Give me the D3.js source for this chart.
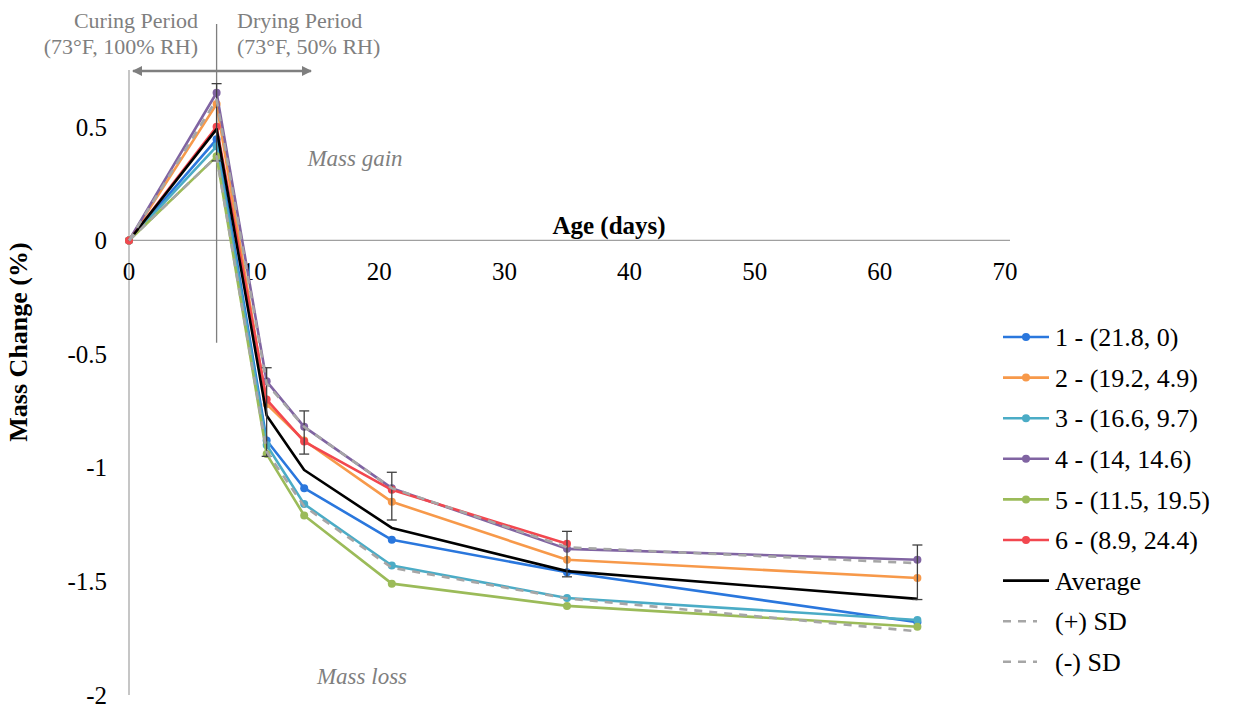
<!DOCTYPE html>
<html>
<head>
<meta charset="utf-8">
<script src="https://cdn.jsdelivr.net/npm/d3@7"></script>
<style>
  body { margin: 0; background: #fff; }
</style>
</head>
<body>
<div id="chart"></div>
<script>
// Ages (days) where samples were weighed
var days = [0, 7, 11, 14, 21, 35, 63];

// Mass change (%) per mix (mix 6 has no reading at 63 days)
var mix1 = [0, 0.445, -0.88, -1.09, -1.317, -1.46, -1.68];
var mix2 = [0, 0.60, -0.72, -0.88, -1.15, -1.405, -1.485];
var mix3 = [0, 0.414, -0.90, -1.16, -1.43, -1.573, -1.67];
var mix4 = [0, 0.65, -0.62, -0.82, -1.09, -1.357, -1.405];
var mix5 = [0, 0.37, -0.94, -1.21, -1.51, -1.608, -1.70];
var mix6 = [0, 0.50, -0.70, -0.885, -1.097, -1.335, null];
var average = [0, 0.49, -0.77, -1.01, -1.265, -1.455, -1.577];
var plusSD = [0, 0.62, -0.63, -0.82, -1.09, -1.35, -1.42];
var minusSD = [0, 0.37, -0.93, -1.17, -1.44, -1.575, -1.72];

// error bars
var errDays = [7, 11, 14, 21, 35, 63];
var errHigh = [0.69, -0.56, -0.75, -1.02, -1.28, -1.34];
var errLow = [0.35, -0.95, -0.94, -1.23, -1.48, -1.58];

var seriesNames = ["1 - (21.8, 0)", "2 - (19.2, 4.9)", "3 - (16.6, 9.7)", "4 - (14, 14.6)",
                   "5 - (11.5, 19.5)", "6 - (8.9, 24.4)", "Average", "(+) SD", "(-) SD"];
var xTicks = [0, 10, 20, 30, 40, 50, 60, 70];
var yTicks = [0.5, 0, -0.5, -1, -1.5, -2];

var width = 1233, height = 708;
var serif = "'Liberation Serif'";

var series = [
    { name: seriesNames[0], values: mix1, color: "#2a77dd", marker: true, dash: null },
    { name: seriesNames[1], values: mix2, color: "#f7994a", marker: true, dash: null },
    { name: seriesNames[2], values: mix3, color: "#4bacc6", marker: true, dash: null },
    { name: seriesNames[3], values: mix4, color: "#8064a2", marker: true, dash: null },
    { name: seriesNames[4], values: mix5, color: "#9bbb59", marker: true, dash: null },
    { name: seriesNames[5], values: mix6, color: "#f2474f", marker: true, dash: null },
    { name: seriesNames[6], values: average, color: "#000000", marker: false, dash: null },
    { name: seriesNames[7], values: plusSD, color: "#a6a6a6", marker: false, dash: "8,7" },
    { name: seriesNames[8], values: minusSD, color: "#a6a6a6", marker: false, dash: "8,7" }
];

var svg = d3.select("#chart")
    .append("svg")
    .attr("width", width)
    .attr("height", height);

var x = d3.scaleLinear().domain([0, 70]).range([129, 1005]);
var y = d3.scaleLinear().domain([-2, 0.75]).range([695, 70]);

// axis lines (y axis at x=0, x axis crossing at y=0)
svg.append("line")
    .attr("x1", x(0)).attr("x2", x(0))
    .attr("y1", y(0.75)).attr("y2", y(-2))
    .attr("stroke", "#a0a0a0").attr("stroke-width", 1.2);
svg.append("line")
    .attr("x1", x(0)).attr("x2", x(70) + 5)
    .attr("y1", y(0)).attr("y2", y(0))
    .attr("stroke", "#a0a0a0").attr("stroke-width", 1.2);

// tick labels
svg.selectAll(".ytick")
    .data(yTicks)
    .enter()
    .append("text")
    .attr("class", "ytick")
    .attr("x", 107)
    .attr("y", function (d) { return y(d); })
    .attr("dy", "0.35em")
    .attr("text-anchor", "end")
    .style("font-family", serif)
    .style("font-size", "25px")
    .text(function (d) { return d; });

svg.selectAll(".xtick")
    .data(xTicks)
    .enter()
    .append("text")
    .attr("class", "xtick")
    .attr("x", function (d) { return x(d); })
    .attr("y", y(0) + 31)
    .attr("dy", "0.35em")
    .attr("text-anchor", "middle")
    .style("font-family", serif)
    .style("font-size", "25px")
    .text(function (d) { return d; });

// axis titles
svg.append("text")
    .attr("x", 609).attr("y", 234)
    .attr("text-anchor", "middle")
    .style("font-family", serif)
    .style("font-size", "25px").style("font-weight", "bold")
    .text("Age (days)");
svg.append("text")
    .attr("transform", "translate(27,342) rotate(-90)")
    .attr("text-anchor", "middle")
    .style("font-family", serif)
    .style("font-size", "26px").style("font-weight", "bold")
    .text("Mass Change (%)");

// curing / drying annotation
var grey = "#7f7f7f";
svg.append("line")
    .attr("x1", x(7)).attr("x2", x(7))
    .attr("y1", 24).attr("y2", y(-0.45))
    .attr("stroke", grey).attr("stroke-width", 1.3);

svg.append("defs").append("marker")
    .attr("id", "arrow")
    .attr("viewBox", "0 0 10 10")
    .attr("refX", 9).attr("refY", 5)
    .attr("markerWidth", 4.4).attr("markerHeight", 4)
    .attr("orient", "auto-start-reverse")
    .append("path")
    .attr("d", "M0,0 L10,5 L0,10 z")
    .attr("fill", grey);

svg.append("line")
    .attr("x1", 133).attr("x2", 311)
    .attr("y1", 71).attr("y2", 71)
    .attr("stroke", grey).attr("stroke-width", 2.5)
    .attr("marker-start", "url(#arrow)")
    .attr("marker-end", "url(#arrow)");

var notes = [
    { t: "Curing Period", x: 198, y: 20, anchor: "end" },
    { t: "(73°F, 100% RH)", x: 198, y: 46, anchor: "end" },
    { t: "Drying Period", x: 237, y: 20, anchor: "start" },
    { t: "(73°F, 50% RH)", x: 237, y: 46, anchor: "start" }
];
svg.selectAll(".note")
    .data(notes)
    .enter()
    .append("text")
    .attr("class", "note")
    .attr("x", function (d) { return d.x; })
    .attr("y", function (d) { return d.y; })
    .attr("dy", "0.35em")
    .attr("text-anchor", function (d) { return d.anchor; })
    .attr("fill", grey)
    .style("font-family", serif)
    .style("font-size", "22px")
    .text(function (d) { return d.t; });

svg.append("text")
    .attr("x", 355).attr("y", 158).attr("dy", "0.35em")
    .attr("text-anchor", "middle").attr("fill", grey)
    .style("font-family", serif)
    .style("font-size", "23px").style("font-style", "italic")
    .text("Mass gain");
svg.append("text")
    .attr("x", 362).attr("y", 676).attr("dy", "0.35em")
    .attr("text-anchor", "middle").attr("fill", grey)
    .style("font-family", serif)
    .style("font-size", "23px").style("font-style", "italic")
    .text("Mass loss");

// lines (skip missing readings)
var line = d3.line()
    .defined(function (d) { return d != null; })
    .x(function (d, i) { return x(days[i]); })
    .y(function (d) { return y(d); });

var g = svg.append("g");

series.forEach(function (s, k) {
    g.append("path")
        .datum(s.values)
        .attr("d", line)
        .attr("fill", "none")
        .attr("stroke", s.color)
        .attr("stroke-width", 2.6)
        .attr("stroke-linejoin", "round")
        .attr("stroke-dasharray", s.dash);

    if (s.marker) {
        var pts = s.values.map(function (v, i) { return { day: days[i], v: v }; })
            .filter(function (p) { return p.v != null; });
        g.selectAll(".m" + k)
            .data(pts)
            .enter()
            .append("circle")
            .attr("class", "m" + k)
            .attr("cx", function (d) { return x(d.day); })
            .attr("cy", function (d) { return y(d.v); })
            .attr("r", 4)
            .attr("fill", s.color);
    }

    // error bars sit after the average line
    if (k == 6) {
        errDays.forEach(function (dd, i) {
            var eb = g.append("g").attr("stroke", "#404040").attr("stroke-width", 1.3);
            eb.append("line")
                .attr("x1", x(dd)).attr("x2", x(dd))
                .attr("y1", y(errHigh[i])).attr("y2", y(errLow[i]));
            eb.append("line")
                .attr("x1", x(dd) - 5).attr("x2", x(dd) + 5)
                .attr("y1", y(errHigh[i])).attr("y2", y(errHigh[i]));
            eb.append("line")
                .attr("x1", x(dd) - 5).attr("x2", x(dd) + 5)
                .attr("y1", y(errLow[i])).attr("y2", y(errLow[i]));
        });
    }
});

// legend
var legend = svg.append("g").attr("transform", "translate(1003,337)");
var rows = legend.selectAll(".row")
    .data(series)
    .enter()
    .append("g")
    .attr("class", "row")
    .attr("transform", function (d, i) { return "translate(0," + (i * 40.6) + ")"; });

rows.append("line")
    .attr("x1", 0).attr("x2", function (d) { return d.dash ? 34 : 46; })
    .attr("y1", 0).attr("y2", 0)
    .attr("stroke", function (d) { return d.color; })
    .attr("stroke-width", 2.6)
    .attr("stroke-dasharray", function (d) { return d.dash; });

rows.filter(function (d) { return d.marker; })
    .append("circle")
    .attr("cx", 23).attr("cy", 0).attr("r", 4)
    .attr("fill", function (d) { return d.color; });

rows.append("text")
    .attr("x", 52)
    .attr("y", 0)
    .attr("dy", "0.35em")
    .style("font-family", serif)
    .style("font-size", "26px")
    .text(function (d) { return d.name; });
</script>
</body>
</html>
